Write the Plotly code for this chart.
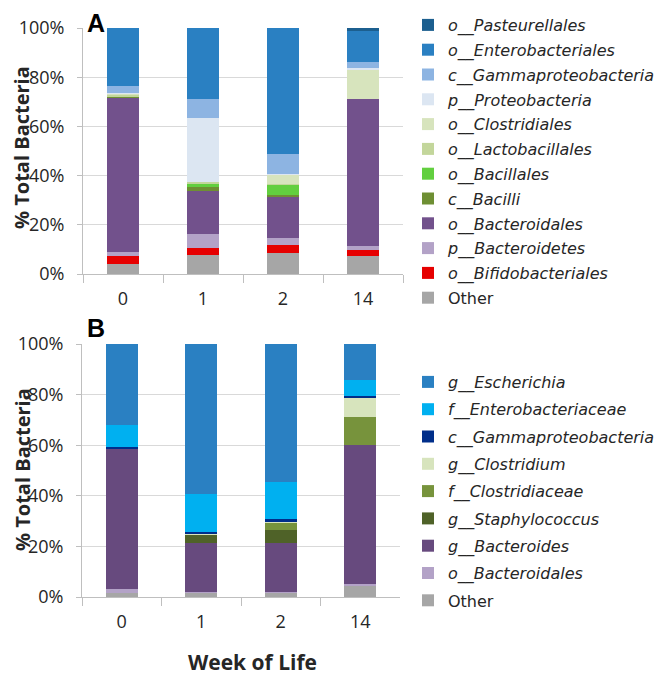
import plotly.graph_objects as go

weeks = ["0", "1", "2", "14"]

# Panel A (order bottom -> top)
a_names = ["Other", "<i>o__Bifidobacteriales</i>", "<i>p__Bacteroidetes</i>", "<i>o__Bacteroidales</i>",
           "<i>c__Bacilli</i>", "<i>o__Bacillales</i>", "<i>o__Lactobacillales</i>", "<i>o__Clostridiales</i>",
           "<i>p__Proteobacteria</i>", "<i>c__Gammaproteobacteria</i>", "<i>o__Enterobacteriales</i>",
           "<i>o__Pasteurellales</i>"]
a_other = [4.2, 7.7, 8.7, 7.2]
a_bifido = [3.0, 3.0, 3.0, 2.7]
a_bacteroidetes = [1.9, 5.7, 2.8, 1.5]
a_bacteroidales = [62.6, 17.4, 17.2, 59.8]
a_bacilli = [0.3, 1.5, 0.4, 0.0]
a_bacillales = [0.0, 1.6, 4.1, 0.0]
a_lacto = [1.0, 0.3, 0.2, 0.0]
a_clost = [0.2, 0.0, 4.2, 11.8]
a_proteo = [0.5, 26.1, 0.2, 0.9]
a_gamma = [2.8, 7.9, 8.0, 2.2]
a_entero = [23.5, 28.8, 51.2, 12.5]
a_pasteur = [0.0, 0.0, 0.0, 1.4]
a_values = [a_other, a_bifido, a_bacteroidetes, a_bacteroidales, a_bacilli, a_bacillales,
            a_lacto, a_clost, a_proteo, a_gamma, a_entero, a_pasteur]
a_colors = ["#A6A6A6", "#E60000", "#B3A2C7", "#72518C", "#6E8F33", "#62CF3F", "#C3D69B",
            "#D7E4BD", "#DCE6F2", "#8DB4E2", "#2A80C2", "#1C5F8F"]

# Panel B (order bottom -> top)
b_names = ["Other", "<i>o__Bacteroidales</i>", "<i>g__Bacteroides</i>", "<i>g__Staphylococcus</i>",
           "<i>f__Clostridiaceae</i>", "<i>g__Clostridium</i>", "<i>c__Gammaproteobacteria</i>",
           "<i>f__Enterobacteriaceae</i>", "<i>g__Escherichia</i>"]
b_other = [1.6, 1.8, 1.8, 4.6]
b_bacteroidales = [1.4, 0.3, 0.3, 0.6]
b_bacteroides = [55.4, 19.1, 19.1, 54.8]
b_staph = [0.0, 3.5, 5.4, 0.0]
b_clostridiaceae = [0.0, 0.0, 3.0, 11.2]
b_clostridium = [0.0, 0.2, 0.4, 7.7]
b_gamma = [0.8, 0.8, 0.7, 0.5]
b_entero = [8.7, 15.1, 14.8, 6.4]
b_escherichia = [32.1, 59.2, 54.5, 14.2]
b_values = [b_other, b_bacteroidales, b_bacteroides, b_staph, b_clostridiaceae, b_clostridium,
            b_gamma, b_entero, b_escherichia]
b_colors = ["#A6A6A6", "#B3A2C7", "#674A7E", "#4F6228", "#77933C", "#D7E4BD", "#002E8A",
            "#00B0F0", "#2A80C2"]

FONT = "Open Sans, sans-serif"
LFONT = "DejaVu Sans, sans-serif"
PFONT = "Liberation Sans, Arial, sans-serif"
fig = go.Figure()
for i, (n, v, c) in enumerate(zip(a_names, a_values, a_colors)):
    fig.add_trace(go.Bar(x=weeks, y=v, name=n, marker=dict(color=c, line=dict(width=0)),
                         width=0.4, xaxis="x", yaxis="y", legend="legend", legendgroup="a%d" % i,
                         legendrank=1000 - i))
for i, (n, v, c) in enumerate(zip(b_names, b_values, b_colors)):
    fig.add_trace(go.Bar(x=weeks, y=v, name=n, marker=dict(color=c, line=dict(width=0)),
                         width=0.4, xaxis="x2", yaxis="y2", legend="legend2", legendgroup="b%d" % i,
                         legendrank=1000 - i))

W, H = 666, 675
OFF = 8  # page body offset
def px(x): return (x - OFF) / W
def py(y): return 1 - (y - OFF) / H

xcommon = dict(type="category", showline=True, linecolor="#BFBFBF", ticks="outside", tickson="boundaries",
               ticklen=8, tickcolor="#BFBFBF", showgrid=False, tickfont=dict(size=18, color="#262626", family=FONT),
               ticklabelstandoff=8, automargin=False)
ycommon = dict(range=[0, 100], dtick=20, ticksuffix="%", showline=True, linecolor="#BFBFBF", ticks="outside",
               ticklen=5, tickcolor="#BFBFBF", gridcolor="#D9D9D9", gridwidth=1, automargin=False,
               tickfont=dict(size=18, color="#262626", family=FONT), zeroline=False, ticklabelstandoff=9)

legcommon = dict(font=dict(size=16, color="#262626", family=LFONT), bgcolor="rgba(0,0,0,0)",
                 xanchor="left", yanchor="top", traceorder="grouped", itemwidth=30)

fig.update_layout(
    width=W, height=H, barmode="stack", plot_bgcolor="white", paper_bgcolor="white",
    margin=dict(l=0, r=0, t=0, b=0, autoexpand=False), bargap=0.6,
    font=dict(family=FONT, color="#262626"),
    xaxis=dict(domain=[px(83), px(403)], anchor="y", **xcommon),
    yaxis=dict(domain=[py(274), py(28)], anchor="x", **ycommon),
    xaxis2=dict(domain=[px(82), px(400)], anchor="y2", **xcommon),
    yaxis2=dict(domain=[py(597), py(344)], anchor="x2", **ycommon),
    legend=dict(x=px(408), y=py(8), tracegroupgap=1, **legcommon),
    legend2=dict(x=px(408), y=py(365), tracegroupgap=3.5, **legcommon),
    annotations=[
        dict(text="<b>A</b>", x=px(86), y=1.0, xref="paper", yref="paper", showarrow=False, borderpad=0,
             xanchor="left", yanchor="top", font=dict(size=25, color="black", family=PFONT)),
        dict(text="<b>B</b>", x=px(86), y=py(328), xref="paper", yref="paper", showarrow=False, borderpad=0,
             xanchor="left", yanchor="middle", font=dict(size=25, color="black", family=PFONT)),
        dict(text="<b>% Total Bacteria</b>", x=px(22), y=py(148), xref="paper", yref="paper", showarrow=False,
             textangle=-90, xanchor="center", yanchor="middle", font=dict(size=20, color="#262626", family=FONT)),
        dict(text="<b>% Total Bacteria</b>", x=px(22), y=py(470), xref="paper", yref="paper", showarrow=False,
             textangle=-90, xanchor="center", yanchor="middle", font=dict(size=20, color="#262626", family=FONT)),
        dict(text="<b>Week of Life</b>", x=px(252), y=py(662), xref="paper", yref="paper", showarrow=False,
             xanchor="center", yanchor="middle", font=dict(size=21, color="#262626", family=FONT)),
    ],
)

fig.write_html("out.html")
